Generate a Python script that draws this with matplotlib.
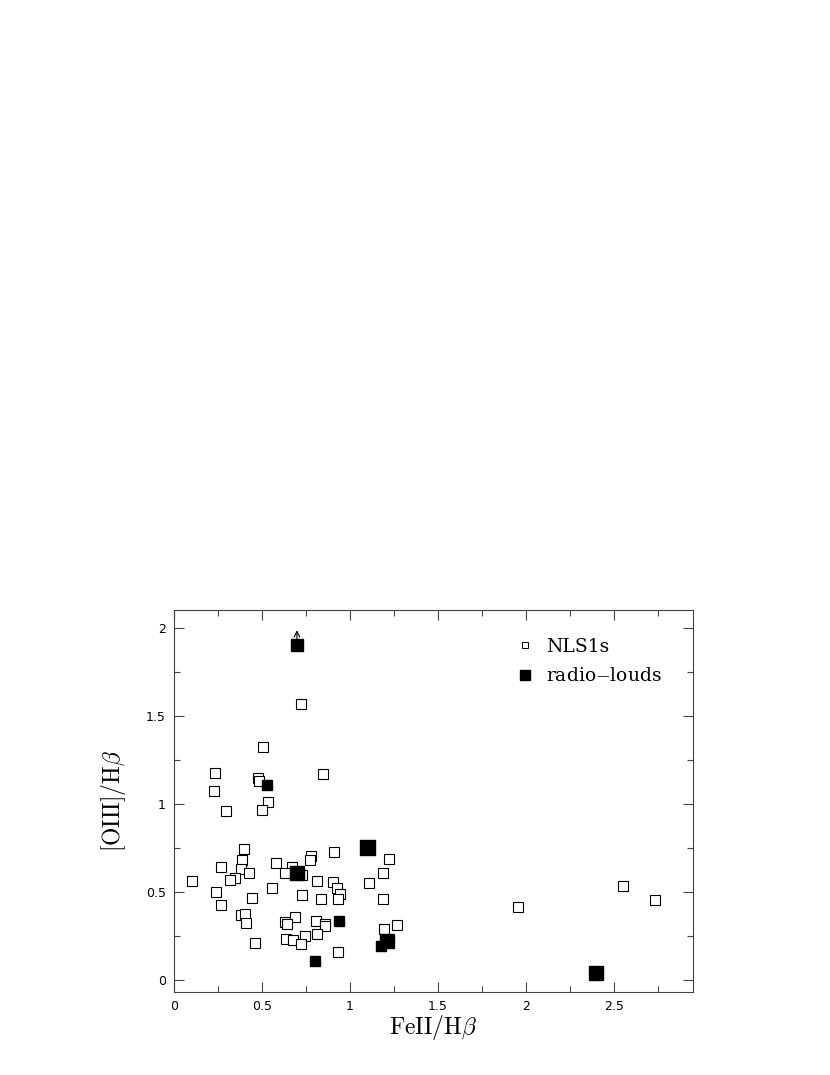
import matplotlib
matplotlib.use("Agg")
import matplotlib.pyplot as plt
from matplotlib.ticker import MultipleLocator

plt.rcParams["mathtext.fontset"] = "cm"

# NLS1s (open squares): FeII/Hbeta, [OIII]/Hbeta
nls_fe = [0.720, 0.504, 0.235, 0.845, 0.479, 0.485, 0.229, 0.536, 0.295, 0.498,
          0.400, 0.907, 1.223, 0.780, 0.773, 0.388, 0.578, 0.265, 0.670, 0.383,
          0.426, 0.631, 0.727, 1.190, 0.102, 0.349, 0.320, 0.813, 0.903, 1.106,
          0.928, 0.557, 0.239, 0.945, 0.727, 0.930, 0.833, 0.443, 1.186, 0.265,
          0.383, 0.403, 0.686, 0.407, 0.631, 0.642, 0.807, 0.860, 0.860, 1.267,
          1.191, 0.814, 0.746, 0.638, 0.674, 0.720, 0.458, 0.930, 1.957, 2.551,
          2.737]
nls_o3 = [1.566, 1.320, 1.174, 1.170, 1.148, 1.130, 1.072, 1.007, 0.956, 0.966,
          0.740, 0.725, 0.683, 0.702, 0.680, 0.678, 0.665, 0.642, 0.638, 0.627,
          0.606, 0.608, 0.597, 0.608, 0.563, 0.577, 0.568, 0.559, 0.553, 0.547,
          0.520, 0.519, 0.498, 0.486, 0.483, 0.456, 0.456, 0.464, 0.460, 0.424,
          0.369, 0.375, 0.356, 0.324, 0.330, 0.318, 0.333, 0.318, 0.303, 0.310,
          0.288, 0.257, 0.248, 0.233, 0.227, 0.205, 0.208, 0.157, 0.415, 0.534,
          0.455]

# radio-loud objects (filled squares)
rl_fe = [0.699, 0.528, 1.098, 0.699, 0.939, 1.210, 1.178, 0.800, 2.398]
rl_o3 = [1.900, 1.104, 0.753, 0.604, 0.335, 0.218, 0.189, 0.106, 0.036]
rl_ms = [8.5, 7.2, 10.8, 10.0, 7.8, 10.0, 6.8, 6.8, 9.5]

fig = plt.figure(figsize=(8.3, 10.75), dpi=100)
ax = fig.add_axes([0.2096, 0.0772, 0.6253, 0.3554])

ax.plot(nls_fe, nls_o3, "s", ms=6.5, mfc="white", mec="black", mew=0.8,
        linestyle="none", zorder=2)
for x, y, m in zip(rl_fe, rl_o3, rl_ms):
    ax.plot(x, y, "s", ms=m, mfc="black", mec="black", zorder=3)

# legend handles
ax.plot([], [], "s", ms=5, mfc="white", mec="black", mew=0.7,
        linestyle="none", label="NLS1s")
ax.plot([], [], "s", ms=7, mfc="black", mec="black", linestyle="none",
        label="radio$-$louds")

# lower-limit arrow on the top radio-loud point
ax.annotate("", xy=(rl_fe[0], 1.985), xytext=(rl_fe[0], 1.935),
            arrowprops=dict(arrowstyle="->", lw=0.8, color="black",
                            shrinkA=0, shrinkB=0))

ax.set_xlim(0, 2.95)
ax.set_ylim(-0.07, 2.1)
ax.xaxis.set_major_locator(MultipleLocator(0.5))
ax.xaxis.set_minor_locator(MultipleLocator(0.25))
ax.yaxis.set_major_locator(MultipleLocator(0.5))
ax.yaxis.set_minor_locator(MultipleLocator(0.25))
ax.xaxis.set_major_formatter(plt.FuncFormatter(lambda v, p: f"{v:g}"))
ax.yaxis.set_major_formatter(plt.FuncFormatter(lambda v, p: f"{v:g}"))
ax.tick_params(which="both", direction="in", top=True, right=True,
               labelsize=9, color="#444444", width=0.8)
ax.tick_params(which="major", length=7, pad=6)
ax.tick_params(which="minor", length=4)
for s in ax.spines.values():
    s.set_linewidth(0.8)
    s.set_color("#444444")

ax.set_xlabel(r"$\mathrm{FeII/H}\beta$", fontsize=17, labelpad=0)
ax.set_ylabel(r"$\mathrm{[OIII]/H}\beta$", fontsize=17, labelpad=13)

leg = ax.legend(loc="upper left", bbox_to_anchor=(0.659, 0.927),
                frameon=False, borderpad=0, borderaxespad=0,
                handlelength=1.0, handletextpad=0.6, labelspacing=0.62,
                prop={"family": "DejaVu Serif", "size": 13.5})

fig.savefig("out.png", dpi=100)
